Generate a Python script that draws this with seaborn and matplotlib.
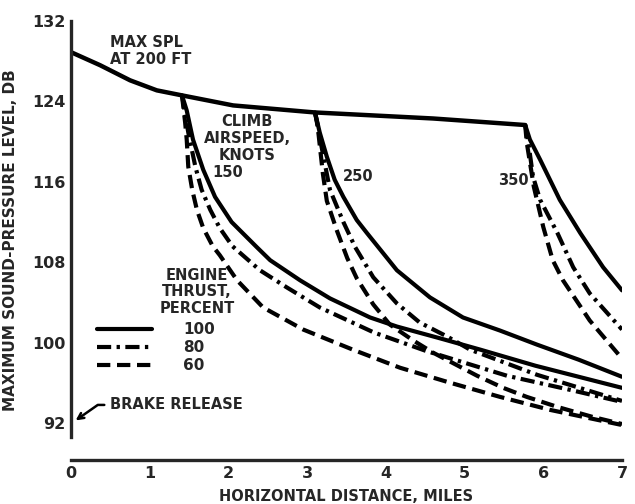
import pandas as pd
import matplotlib
matplotlib.use("Agg")
import matplotlib.pyplot as plt
import seaborn as sns

# max SPL at 200 ft, before climb-out
main_miles = [0, 0.37, 0.75, 1.09, 1.41, 2.06, 3.10, 4.60, 5.77]
main_spl = [128.9, 127.6, 126.1, 125.1, 124.6, 123.6, 122.9, 122.3, 121.65]

# climb airspeed 150 knots
k150_100_x = [1.41, 1.47, 1.55, 1.68, 1.83, 2.04, 2.36, 2.53, 2.91, 3.29, 3.80, 4.14, 4.70, 5.20, 5.90, 7.0]
k150_100_y = [124.6, 123.1, 120.2, 117.2, 114.5, 112.0, 109.5, 108.2, 106.2, 104.4, 102.5, 101.6, 100.4, 99.3, 97.7, 95.5]
k150_80_x = [1.41, 1.49, 1.58, 1.66, 1.77, 1.89, 2.05, 2.40, 2.74, 3.16, 3.85, 4.50, 5.54, 6.34, 7.0]
k150_80_y = [124.6, 120.9, 117.5, 115.2, 113.2, 111.4, 109.6, 107.2, 105.5, 103.5, 101.0, 99.2, 96.7, 95.3, 94.1]
k150_60_x = [1.41, 1.45, 1.47, 1.49, 1.54, 1.60, 1.68, 1.80, 1.89, 2.11, 2.44, 2.95, 3.58, 4.18, 4.82, 5.45, 6.09, 7.0]
k150_60_y = [124.6, 121.9, 120.2, 117.5, 115.2, 113.2, 111.4, 109.6, 108.7, 106.2, 103.5, 101.3, 99.3, 97.5, 96.0, 94.6, 93.3, 91.8]

# 250 knots
k250_100_x = [3.10, 3.16, 3.25, 3.35, 3.46, 3.63, 3.76, 4.14, 4.56, 4.98, 5.45, 5.92, 6.45, 7.0]
k250_100_y = [122.9, 120.9, 118.5, 116.2, 114.5, 112.2, 110.9, 107.2, 104.5, 102.5, 101.2, 99.8, 98.3, 96.6]
k250_80_x = [3.10, 3.19, 3.29, 3.46, 3.61, 3.84, 4.14, 4.43, 4.78, 5.07, 5.92, 7.0]
k250_80_y = [122.9, 119.2, 115.2, 112.0, 109.5, 106.5, 103.9, 102.0, 100.6, 99.3, 96.8, 94.2]
k250_60_x = [3.10, 3.13, 3.20, 3.25, 3.38, 3.51, 3.63, 3.84, 4.05, 4.35, 4.60, 5.16, 5.49, 5.79, 6.18, 6.63, 7.0]
k250_60_y = [122.9, 121.8, 116.8, 114.1, 111.1, 108.4, 106.4, 103.8, 101.8, 100.2, 99.0, 96.7, 95.5, 94.6, 93.6, 92.6, 91.9]

# 350 knots
k350_100_x = [5.77, 5.83, 5.96, 6.21, 6.47, 6.76, 7.0]
k350_100_y = [121.65, 120.2, 118.2, 114.2, 110.9, 107.5, 105.2]
k350_80_x = [5.77, 5.81, 5.87, 5.96, 6.18, 6.38, 6.59, 7.0]
k350_80_y = [121.65, 119.9, 116.5, 114.2, 110.9, 107.5, 104.9, 101.3]
k350_60_x = [5.77, 5.79, 5.88, 6.00, 6.12, 6.25, 6.59, 6.98]
k350_60_y = [121.65, 119.9, 115.5, 111.5, 108.2, 106.2, 102.2, 98.6]

yticks = [92, 100, 108, 116, 124, 132]
xticks = [0, 1, 2, 3, 4, 5, 6, 7]

#long form table for seaborn
rows = []
curves = [('150', '100', k150_100_x, k150_100_y), ('150', '80', k150_80_x, k150_80_y),
          ('150', '60', k150_60_x, k150_60_y), ('250', '100', k250_100_x, k250_100_y),
          ('250', '80', k250_80_x, k250_80_y), ('250', '60', k250_60_x, k250_60_y),
          ('350', '100', k350_100_x, k350_100_y), ('350', '80', k350_80_x, k350_80_y),
          ('350', '60', k350_60_x, k350_60_y)]
for speed, thrust, xs, ys in curves:
    for i in range(len(xs)):
        rows.append({'speed': speed, 'thrust': thrust, 'miles': xs[i], 'spl': ys[i]})
df = pd.DataFrame(rows)

sns.set_style("white")
plt.rcParams['font.family'] = ['DejaVu Sans']
plt.rcParams['font.weight'] = 'bold'

fig = plt.figure(figsize=(6.35, 5.04), dpi=100)
ax = fig.add_axes([71/635, 1-460/504, (622-71)/635, (460-21)/504])

sns.lineplot(x=main_miles, y=main_spl, color='black', lw=3.2, ax=ax)
sns.lineplot(data=df, x='miles', y='spl', style='thrust', units='speed', estimator=None,
             sort=False, color='black', lw=3, style_order=['100', '80', '60'],
             dashes={'100': '', '80': (3.4, 1.3, 0.8, 1.3), '60': (3.2, 1.6)}, ax=ax)

handles, labels = ax.get_legend_handles_labels()
for h in handles:
    h.set_linewidth(3)
    h.set_color('black')
ax.legend(handles, labels, loc='upper left', bbox_to_anchor=(0.048, 0.314), frameon=False,
          fontsize=11, handlelength=3.6, handletextpad=2.0, labelspacing=0.2,
          borderpad=0, borderaxespad=0)

ax.set_xlim(0, 7)
ax.set_ylim(88.32, 132)
ax.set_xticks(xticks)
ax.set_yticks(yticks)
ax.tick_params(direction='in', length=5, width=2, labelsize=11.5, pad=4)
sns.despine(ax=ax)
ax.spines['left'].set_linewidth(2.4)
ax.spines['bottom'].set_linewidth(2.4)
ax.spines['left'].set_bounds(90.6, 132)
ax.spines['bottom'].set_bounds(0, 7)

ax.set_xlabel('HORIZONTAL DISTANCE, MILES', fontsize=10.5, fontweight='bold', labelpad=6)
ax.set_ylabel('MAXIMUM SOUND-PRESSURE LEVEL, DB', fontsize=11, fontweight='bold', labelpad=10)

ax.text(0.50, 130.6, 'MAX SPL\nAT 200 FT', ha='left', va='top', fontsize=10.5, linespacing=1.15)
ax.text(2.24, 122.7, 'CLIMB\nAIRSPEED,\nKNOTS', ha='center', va='top', fontsize=10.5, linespacing=1.15)
ax.text(1.79, 116.9, '150', ha='left', va='center', fontsize=10.5)
ax.text(3.46, 116.5, '250', ha='left', va='center', fontsize=10.5)
ax.text(5.43, 116.1, '350', ha='left', va='center', fontsize=10.5)
ax.text(1.60, 107.4, 'ENGINE\nTHRUST,\nPERCENT', ha='center', va='top', fontsize=10.5, linespacing=1.1)
ax.annotate('BRAKE RELEASE', xy=(0.03, 92.1), xytext=(0.50, 93.8), ha='left', va='center',
            fontsize=10.5,
            arrowprops=dict(arrowstyle='->', lw=1.8, color='black',
                            connectionstyle='angle,angleA=0,angleB=35,rad=0'))

plt.savefig('out.png', dpi=100)
